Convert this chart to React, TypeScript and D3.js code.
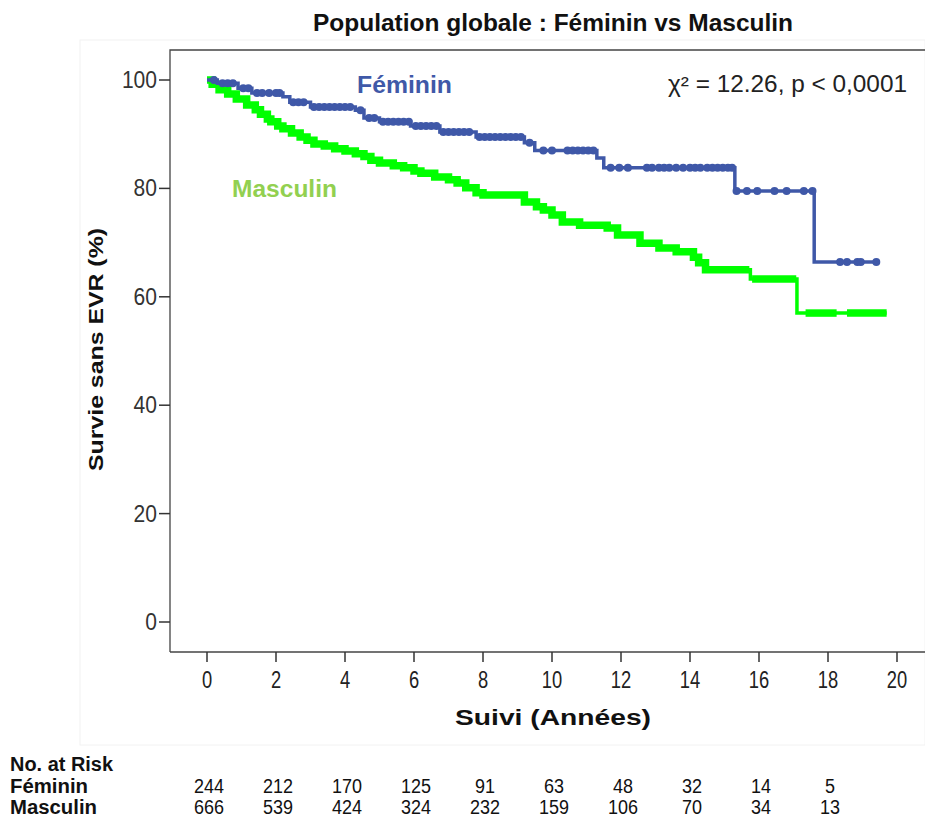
import React from "react";
import * as d3 from "d3";

// ---- Data ----
const femTimes = [0, 0.3, 0.9, 1.3, 2.2, 2.4, 3.0, 4.3, 4.55, 5.0, 5.9, 6.75, 7.8, 9.2, 9.5, 11.3, 11.5, 15.3, 17.6];
const femSurv = [100, 99.4, 98.5, 97.6, 96.9, 95.9, 95.0, 94.4, 93.0, 92.3, 91.5, 90.4, 89.5, 88.4, 87.0, 85.6, 83.8, 79.5, 66.4];
const femEnd = 19.4;
const femCensor = [0.2, 0.45, 0.6, 0.75, 1.05, 1.2, 1.45, 1.6, 1.8, 2.0, 2.1, 2.5, 2.65, 2.8, 3.1, 3.25, 3.4, 3.55, 3.7, 3.85, 4.0, 4.15, 4.45, 4.7, 4.85, 5.1, 5.25, 5.4, 5.55, 5.7, 5.85, 6.05, 6.2, 6.35, 6.5, 6.65, 6.85, 7.0, 7.15, 7.3, 7.45, 7.6, 7.9, 8.05, 8.2, 8.35, 8.5, 8.65, 8.8, 8.95, 9.1, 9.35, 9.75, 10.0, 10.45, 10.6, 10.75, 10.9, 11.05, 11.2, 11.7, 11.95, 12.2, 12.75, 12.9, 13.1, 13.25, 13.4, 13.6, 13.8, 14.0, 14.15, 14.3, 14.5, 14.65, 14.8, 14.95, 15.1, 15.22, 15.35, 15.65, 15.95, 16.45, 16.8, 17.3, 17.55, 18.35, 18.55, 18.85, 18.95, 19.4];

const mascTimes = [0, 0.15, 0.35, 0.6, 0.85, 1.15, 1.4, 1.55, 1.75, 1.85, 2.05, 2.2, 2.45, 2.7, 2.9, 3.1, 3.4, 3.7, 4.0, 4.3, 4.55, 4.75, 5.0, 5.4, 5.7, 6.0, 6.2, 6.6, 7.0, 7.25, 7.5, 7.8, 8.0, 9.2, 9.55, 9.75, 10.0, 10.3, 10.8, 11.6, 11.9, 12.55, 13.1, 13.6, 14.1, 14.25, 14.45, 15.75, 17.1];
const mascSurv = [100, 99.2, 98.2, 97.4, 96.5, 95.4, 94.5, 93.7, 92.8, 92.3, 91.5, 91.0, 90.2, 89.5, 88.9, 88.2, 87.8, 87.3, 86.9, 86.4, 85.9, 85.2, 84.7, 84.2, 83.8, 83.2, 82.8, 82.1, 81.6, 81.0, 80.1, 79.2, 78.8, 77.5, 76.6, 76.0, 75.1, 73.8, 73.2, 72.7, 71.4, 69.9, 69.0, 68.3, 67.3, 66.3, 65.0, 63.3, 57.0];
const mascEnd = 19.7;
// intervals where the dense censor marks make the green line look thick
const mascCensorSpans = [[0, 15.72], [15.8, 17.08], [17.35, 18.25], [18.55, 19.7]];

const xTicks = [0, 2, 4, 6, 8, 10, 12, 14, 16, 18, 20];
const yTicks = [0, 20, 40, 60, 80, 100];
const riskTimes = [0, 2, 4, 6, 8, 10, 12, 14, 16, 18];
const femRisk = [244, 212, 170, 125, 91, 63, 48, 32, 14, 5];
const mascRisk = [666, 539, 424, 324, 232, 159, 106, 70, 34, 13];

const BLUE = "#3F58A8";
const GREEN = "#00FF00";
const SANS = "'Liberation Sans', Arial, sans-serif";

const x = d3.scaleLinear().domain([0, 20]).range([207, 897]);
const y = d3.scaleLinear().domain([0, 100]).range([622, 80]);

function survAt(times: number[], surv: number[], t: number) {
  let s = surv[0];
  for (let i = 0; i < times.length; i++) if (times[i] <= t) s = surv[i];
  return s;
}

function stepPoints(times: number[], surv: number[], a: number, b: number): [number, number][] {
  const pts: [number, number][] = [[a, survAt(times, surv, a)]];
  for (let i = 0; i < times.length; i++) {
    if (times[i] > a && times[i] <= b) pts.push([times[i], surv[i]]);
  }
  pts.push([b, survAt(times, surv, b)]);
  return pts;
}

const stepLine = d3
  .line<[number, number]>()
  .x((d) => x(d[0]))
  .y((d) => y(d[1]))
  .curve(d3.curveStepAfter);

const fit = "spacingAndGlyphs";

export default function App() {
  const femPath = stepLine(stepPoints(femTimes, femSurv, 0, femEnd)) || "";
  const mascPath = stepLine(stepPoints(mascTimes, mascSurv, 0, mascEnd)) || "";
  const frameLeft = 170;
  const frameTop = 50;
  const frameBottom = 652;
  const rowY = [771, 793, 814];

  return (
    <svg width={925} height={820} style={{ position: "absolute", left: 0, top: 0, background: "#fff" }}>
      <rect x={80} y={40} width={845} height={705} fill="none" stroke="#f2f2f2" strokeWidth={1} />
      <text x={313} y={31} fontFamily={SANS} fontWeight="bold" fontSize={23} textLength={480} lengthAdjust={fit} fill="#111">
        Population globale : Féminin vs Masculin
      </text>

      {/* frame */}
      <path d={`M${frameLeft},${frameBottom}V${frameTop}H925`} fill="none" stroke="#444" strokeWidth={1.3} />
      <path d={`M${frameLeft},${frameBottom}H925`} fill="none" stroke="#444" strokeWidth={1.3} />

      {/* y axis */}
      {yTicks.map((v) => {
        const w = String(v).length * 11.7;
        return (
          <g key={"y" + v}>
            <line x1={159} x2={frameLeft} y1={y(v)} y2={y(v)} stroke="#333" strokeWidth={1.5} />
            <text x={157 - w} y={y(v) + 8} fontFamily={SANS} fontSize={23} textLength={w} lengthAdjust={fit} fill="#333">
              {v}
            </text>
          </g>
        );
      })}
      {/* x axis */}
      {xTicks.map((v) => {
        const w = String(v).length * 10.2;
        return (
          <g key={"x" + v}>
            <line x1={x(v)} x2={x(v)} y1={frameBottom} y2={662} stroke="#333" strokeWidth={1.5} />
            <text x={x(v) - w / 2} y={688} fontFamily={SANS} fontSize={23} textLength={w} lengthAdjust={fit} fill="#222">
              {v}
            </text>
          </g>
        );
      })}

      <text
        transform="translate(103,471) rotate(-90)"
        fontFamily={SANS}
        fontWeight="bold"
        fontSize={21}
        textLength={243}
        lengthAdjust={fit}
        fill="#111"
      >
        Survie sans EVR (%)
      </text>
      <text x={455} y={725} fontFamily={SANS} fontWeight="bold" fontSize={22} textLength={196} lengthAdjust={fit} fill="#111">
        Suivi (Années)
      </text>

      {/* curves */}
      <path d={mascPath} fill="none" stroke={GREEN} strokeWidth={3.5} />
      {mascCensorSpans.map(([a, b], i) => (
        <path
          key={"ms" + i}
          d={stepLine(stepPoints(mascTimes, mascSurv, a, b)) || ""}
          fill="none"
          stroke={GREEN}
          strokeWidth={7.5}
          strokeLinejoin="miter"
        />
      ))}
      <path d={femPath} fill="none" stroke={BLUE} strokeWidth={3.5} />
      {femCensor.map((t, i) => (
        <circle key={"fc" + i} cx={x(t)} cy={y(survAt(femTimes, femSurv, t))} r={4} fill={BLUE} />
      ))}

      {/* annotations */}
      <text x={357} y={93} fontFamily={SANS} fontWeight="bold" fontSize={23} textLength={95} lengthAdjust={fit} fill="#3F59A8">
        Féminin
      </text>
      <text x={232} y={197} fontFamily={SANS} fontWeight="bold" fontSize={23} textLength={105} lengthAdjust={fit} fill="#92D050">
        Masculin
      </text>
      <text x={668} y={92} fontFamily={SANS} fontSize={23} textLength={239} lengthAdjust={fit} fill="#222">
        χ² = 12.26, p &lt; 0,0001
      </text>

      {/* number at risk */}
      <text x={10} y={rowY[0]} fontFamily={SANS} fontWeight="bold" fontSize={20} textLength={103} lengthAdjust={fit} fill="#111">
        No. at Risk
      </text>
      <text x={10} y={rowY[1]} fontFamily={SANS} fontWeight="bold" fontSize={20} textLength={78} lengthAdjust={fit} fill="#111">
        Féminin
      </text>
      <text x={10} y={rowY[2]} fontFamily={SANS} fontWeight="bold" fontSize={20} textLength={87} lengthAdjust={fit} fill="#111">
        Masculin
      </text>
      {riskTimes.map((t, i) => {
        const fw = String(femRisk[i]).length * 10;
        const mw = String(mascRisk[i]).length * 10;
        return (
          <g key={"r" + t}>
            <text x={x(t) + 2 - fw / 2} y={rowY[1]} fontFamily={SANS} fontSize={20} textLength={fw} lengthAdjust={fit} fill="#111">
              {femRisk[i]}
            </text>
            <text x={x(t) + 2 - mw / 2} y={rowY[2]} fontFamily={SANS} fontSize={20} textLength={mw} lengthAdjust={fit} fill="#111">
              {mascRisk[i]}
            </text>
          </g>
        );
      })}
    </svg>
  );
}
